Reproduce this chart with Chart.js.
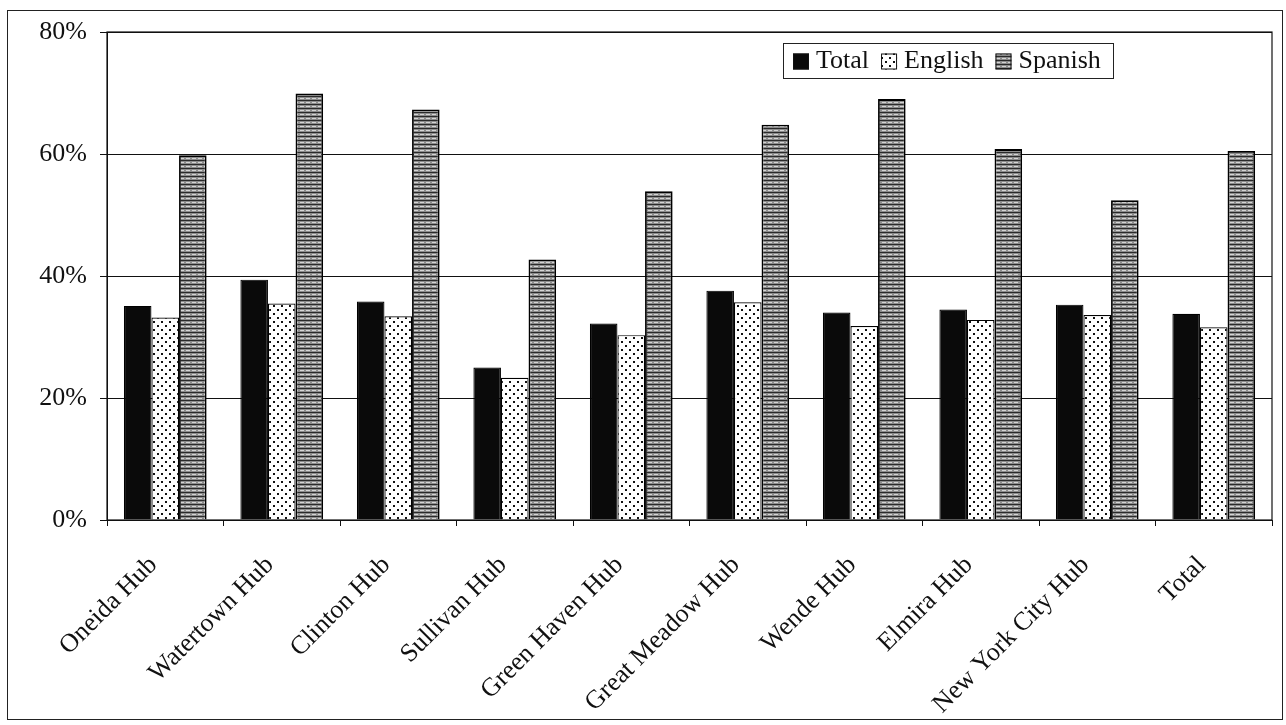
<!DOCTYPE html>
<html><head><meta charset="utf-8">
<script src="https://cdn.jsdelivr.net/npm/chart.js@4/dist/chart.umd.min.js"></script>
<style>
html,body{margin:0;padding:0;background:#fff}
#wrap{position:relative;width:1286px;height:725px}
#frame{position:absolute;left:7px;top:10px;width:1276px;height:710px;border:1px solid #222;box-sizing:border-box}
canvas{position:absolute;left:0;top:0}
</style></head>
<body>
<div id="wrap"><div id="frame"></div><canvas id="c" width="1286" height="725"></canvas></div>
<script>
// hubs + share of each group (percent)
const hubs=["Oneida Hub","Watertown Hub","Clinton Hub","Sullivan Hub","Green Haven Hub","Great Meadow Hub","Wende Hub","Elmira Hub","New York City Hub","Total"];
const totalVals=[35.1,39.4,35.8,25.0,32.2,37.6,34.0,34.5,35.3,33.8];
const englishVals=[33.2,35.5,33.4,23.3,30.3,35.7,31.8,32.8,33.6,31.6];
const spanishVals=[59.8,69.9,67.3,42.7,53.9,64.8,69.0,60.8,52.4,60.5];
const seriesNames=["Total","English","Spanish"];
const yTicks=[0,20,40,60,80];

const SERIF="'Liberation Serif','DejaVu Serif',serif";

// fill patterns like the printed chart
function mkPat(w,h,draw){const c=document.createElement("canvas");c.width=w;c.height=h;const x=c.getContext("2d");draw(x);return x.createPattern(c,"repeat")}
const patDots=mkPat(8,8,x=>{x.fillStyle="#fff";x.fillRect(0,0,8,8);x.fillStyle="#111";x.fillRect(1,1,2,2);x.fillRect(5,5,2,2)});
const patLines=mkPat(6,4,x=>{x.fillStyle="#8c8c8c";x.fillRect(0,0,6,4);x.fillStyle="#2a2a2a";x.fillRect(0,0,6,1);x.fillStyle="#d4d4d4";x.fillRect(0,2,4,1)});
const fills=["#0a0a0a",patDots,patLines];

const frame={id:"frame",afterDatasetsDraw(ch){const a=ch.chartArea,x=ch.ctx;x.save();x.strokeStyle="#111";x.lineWidth=1.2;x.strokeRect(a.left,a.top,a.right-a.left,a.bottom-a.top);x.restore()}};

const legendBox={id:"legendBox",afterDraw(ch){
  const x=ch.ctx;x.save();
  const bx=783,by=43,bw=330,bh=35;
  x.fillStyle="#fff";x.fillRect(bx,by,bw,bh);x.strokeStyle="#222";x.lineWidth=1;x.strokeRect(bx+.5,by+.5,bw,bh);
  x.font="26px "+SERIF;x.textBaseline="middle";
  let cx=bx+10;const cy=by+bh/2+1;
  ch.data.datasets.forEach((d,i)=>{
    x.fillStyle=d.backgroundColor;x.fillRect(cx,cy-8,16,16);x.strokeStyle="#111";x.strokeRect(cx+.5,cy-7.5,15,15);
    cx+=23;x.fillStyle="#111";x.fillText(d.label,cx,cy);cx+=x.measureText(d.label).width+12;
  });
  x.restore()}};

new Chart(document.getElementById("c"),{type:"bar",
  data:{labels:hubs,datasets:[
    {label:seriesNames[0],data:totalVals,backgroundColor:fills[0],borderColor:"#000",borderWidth:1.2},
    {label:seriesNames[1],data:englishVals,backgroundColor:fills[1],borderColor:"#000",borderWidth:1.2},
    {label:seriesNames[2],data:spanishVals,backgroundColor:fills[2],borderColor:"#000",borderWidth:1.8}
  ]},
  options:{responsive:false,devicePixelRatio:1,animation:false,
    layout:{padding:{left:0,top:32,right:14,bottom:0}},
    plugins:{legend:{display:false},tooltip:{enabled:false}},
    datasets:{bar:{categoryPercentage:0.71,barPercentage:1}},
    scales:{
      x:{offset:true,grid:{offset:true,drawOnChartArea:false,drawTicks:true,tickLength:6,color:"#111"},border:{color:"#111"},
        ticks:{color:"#111",font:{family:SERIF,size:26},minRotation:45,maxRotation:45,padding:24,labelOffset:-12,autoSkip:false},
        afterFit:s=>{s.height=205}},
      y:{min:0,max:80,grid:{color:"#111",lineWidth:1,tickLength:7},border:{color:"#111"},
        afterBuildTicks:s=>{s.ticks=yTicks.map(v=>({value:v}))},
        ticks:{color:"#111",font:{family:SERIF,size:26},padding:13,callback:v=>v+"%"},
        afterFit:s=>{s.width=107}}
    }},
  plugins:[frame,legendBox]});
</script>
</body></html>
